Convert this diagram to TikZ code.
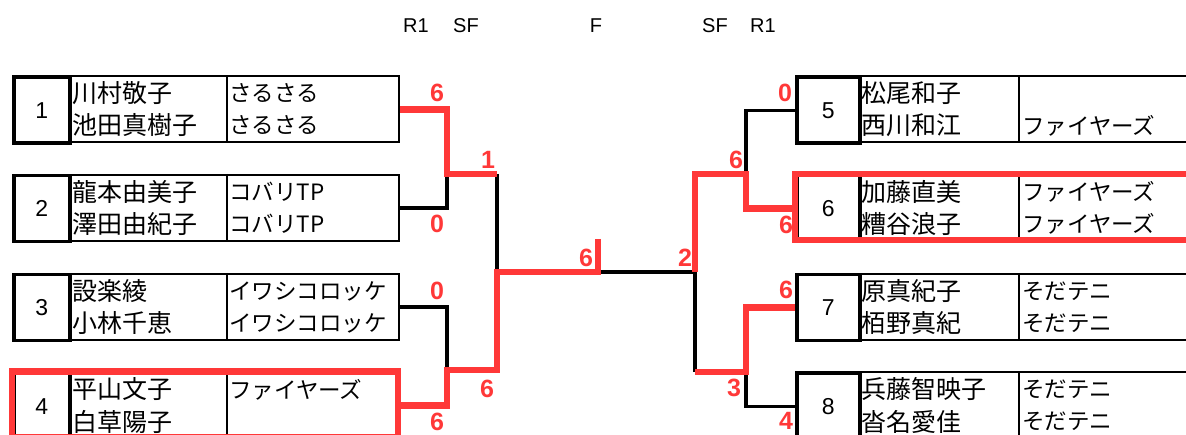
\documentclass[tikz,border=0pt]{standalone}
\usepackage{fontspec}
\setmainfont{Liberation Sans}
\newfontfamily\jp{Noto Sans CJK JP}
\definecolor{wred}{RGB}{255,56,56}
\tikzset{
  numbox/.style={draw, line width=3.5pt, minimum width=56pt, minimum height=66pt, inner sep=0pt, font=\fontsize{23}{23}\selectfont},
  cellbox/.style={draw, line width=2pt, minimum height=66pt, inner sep=0pt},
  divider/.style={line width=1.2pt},
  nm/.style={anchor=west, inner sep=0pt, font=\jp\fontsize{25}{25}\selectfont},
  tm/.style={anchor=west, inner sep=0pt, font=\jp\fontsize{22.5}{22.5}\selectfont},
  lose/.style={line width=3.3pt, black},
  win/.style={line width=6.5pt, wred, line join=miter},
  winbox/.style={line width=6.5pt, wred},
  score/.style={inner sep=0pt, text=wred, font=\bfseries\fontsize{25}{25}\selectfont},
  hdr/.style={inner sep=0pt, font=\fontsize{20}{20}\selectfont},
}
\newcommand{\LEntry}[7]{% id, top, num, name1, name2, team1, team2
  \node[cellbox, minimum width=330pt, anchor=north west] (L#1c) at (68,#2) {};
  \draw[divider] (227,#2) -- (227,#2+66);
  \node[numbox, anchor=north west] (L#1) at (12,#2) {#3};
  \node[nm] (L#1a) at (72,#2+18) {#4};
  \node[nm] (L#1b) at (72,#2+50) {#5};
  \node[tm] (L#1t) at (229,#2+18) {#6};
  \node[tm] (L#1u) at (229,#2+50) {#7};
}
\newcommand{\REntry}[7]{%
  \node[cellbox, minimum width=350pt, anchor=north west] (R#1c) at (858,#2) {};
  \draw[divider] (1019,#2) -- (1019,#2+66);
  \node[numbox, minimum width=63pt, anchor=north west] (R#1) at (795,#2) {#3};
  \node[nm] (R#1a) at (861,#2+18) {#4};
  \node[nm] (R#1b) at (861,#2+50) {#5};
  \node[tm] (R#1t) at (1022,#2+18) {#6};
  \node[tm] (R#1u) at (1022,#2+50) {#7};
}
\begin{document}
\begin{tikzpicture}[x=1pt,y=-1pt]
\useasboundingbox (0,0) rectangle (1186,435);
\clip (0,0) rectangle (1186,435);

% headers
\node[hdr] (h1) at (416,26) {R1};
\node[hdr] (h2) at (466,26) {SF};
\node[hdr] (h3) at (596,26) {F};
\node[hdr] (h4) at (715,26) {SF};
\node[hdr] (h5) at (763,26) {R1};

% entries
\LEntry{1}{75.5}{1}{川村敬子}{池田真樹子}{さるさる}{さるさる}
\LEntry{2}{174}{2}{龍本由美子}{澤田由紀子}{コバリTP}{コバリTP}
\LEntry{3}{273}{3}{設楽綾}{小林千恵}{イワシコロッケ}{イワシコロッケ}
\LEntry{4}{371.5}{4}{平山文子}{白草陽子}{ファイヤーズ}{}
\REntry{5}{75.5}{5}{松尾和子}{西川和江}{}{ファイヤーズ}
\REntry{6}{174}{6}{加藤直美}{糟谷浪子}{ファイヤーズ}{ファイヤーズ}
\REntry{7}{273}{7}{原真紀子}{栢野真紀}{そだテニ}{そだテニ}
\REntry{8}{371.5}{8}{兵藤智映子}{沓名愛佳}{そだテニ}{そだテニ}

% junctions
\coordinate (jL12) at (447,174);
\coordinate (jL12r) at (497,174);
\coordinate (jL34) at (447,370);
\coordinate (jL34r) at (497,370);
\coordinate (jLsf) at (497,272);
\coordinate (jF) at (598,272);
\coordinate (fTop) at (598,239);
\coordinate (fBot) at (598,275);
\coordinate (jR) at (695,272);
\coordinate (jR56r) at (695,174);
\coordinate (jR56) at (746,174);
\coordinate (jR78r) at (695,372);
\coordinate (jR78) at (746,372);

% losing lines
\draw[lose] (L2c.east) -| (jL12);
\draw[lose] (L3c.east) -| (jL34);
\draw[lose] (jL12r) -- (jLsf);
\draw[lose] (jF) -- (jR);
\draw[lose] (jR) -- (jR78r);
\draw[lose] (R5.west) -| (jR56);
\draw[lose] (R8.west) -| (jR78);

% winning lines
\draw[win] (L1c.east) -| (jL12) -- (jL12r);
\draw[win] (L4c.east) -| (jL34) -- (jL34r) -- (jLsf) -- (jF);
\draw[win] (fTop) -- (fBot);
\draw[win] (R6.west) -| (jR56) -- (jR56r) -- (jR);
\draw[win] (R7.west) -| (jR78) -- (jR78r);

% winner boxes
\draw[winbox] (12,371.5) rectangle (398,437.5);
\draw[winbox] (795,174) rectangle (1200,240);

% scores
\node[score] (s1) at (437,93) {6};
\node[score] (s2) at (488,160) {1};
\node[score] (s3) at (437,224) {0};
\node[score] (s4) at (437,291) {0};
\node[score] (s5) at (487,389) {6};
\node[score] (s6) at (437,422) {6};
\node[score] (s7) at (586,258) {6};
\node[score] (s8) at (685,258) {2};
\node[score] (s9) at (785,93) {0};
\node[score] (s10) at (736,160) {6};
\node[score] (s11) at (786,225) {6};
\node[score] (s12) at (786,290) {6};
\node[score] (s13) at (734,388) {3};
\node[score] (s14) at (786,421) {4};
\end{tikzpicture}
\end{document}
